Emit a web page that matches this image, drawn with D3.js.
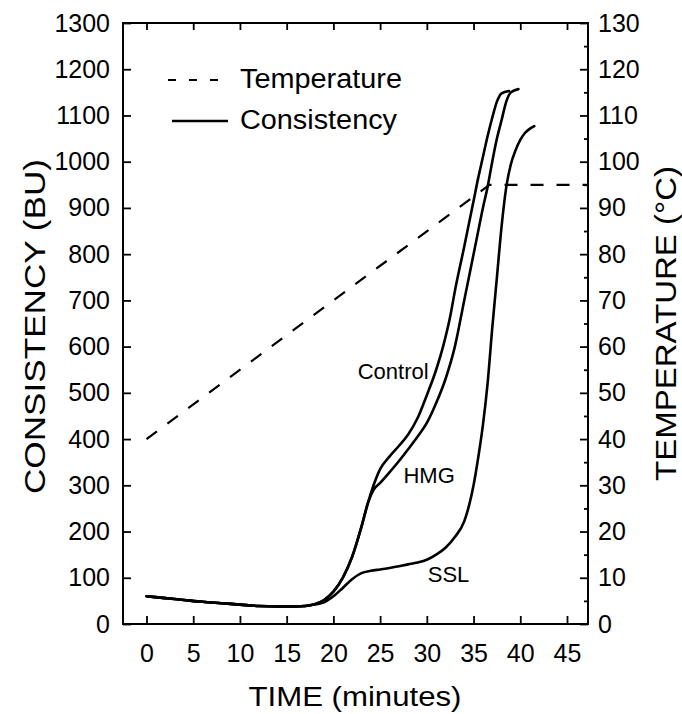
<!DOCTYPE html>
<html>
<head>
<meta charset="utf-8">
<script src="https://cdn.jsdelivr.net/npm/d3@7"></script>
<style>
  html, body { margin: 0; padding: 0; background: #fff; }
  svg text { font-family: "Liberation Sans", Arial, Helvetica, sans-serif; fill: #000; }
</style>
</head>
<body>
<svg id="chart" width="682" height="714"></svg>
<script>
// ---------- data ----------
const timeTicks = [0, 5, 10, 15, 20, 25, 30, 35, 40, 45];
const buTicks = [0, 100, 200, 300, 400, 500, 600, 700, 800, 900, 1000, 1100, 1200, 1300];
const tempTicks = [0, 10, 20, 30, 40, 50, 60, 70, 80, 90, 100, 110, 120, 130];
const tempMinorTicks = [5, 15, 25, 35, 45, 55, 65, 75, 85, 95, 105, 115, 125];

const tempTime = [0, 36.7, 47.2];
const tempC = [40, 95, 95];

const controlTime = [0, 2, 4, 6, 8, 10, 12, 14, 16, 17, 18, 19, 20, 21, 22, 23, 23.7, 24.3, 25, 26, 27, 28, 29, 30, 31, 31.8, 32.5, 33, 34, 35, 35.5, 36, 36.5, 37, 37.5, 38, 38.8];
const controlBU = [60, 56, 52, 48, 45, 42, 39, 38, 38, 39, 43, 52, 70, 100, 145, 210, 262, 300, 335, 362, 385, 410, 445, 495, 550, 605, 665, 720, 816, 915, 965, 1010, 1055, 1095, 1130, 1148, 1153];

const hmgTime = [0, 2, 4, 6, 8, 10, 12, 14, 16, 17, 18, 19, 20, 21, 22, 23, 23.7, 24.3, 25, 26, 27, 28, 29, 30, 31, 32, 33, 34, 35, 35.5, 36, 36.5, 37, 37.5, 38, 38.5, 39, 39.8];
const hmgBU = [60, 56, 52, 48, 45, 42, 39, 38, 38, 39, 43, 52, 70, 100, 145, 210, 262, 290, 305, 328, 352, 378, 405, 435, 478, 530, 600, 700, 800, 850, 900, 945, 1000, 1050, 1090, 1130, 1150, 1157];

const sslTime = [0, 2, 4, 6, 8, 10, 12, 14, 16, 17, 18, 19, 20, 21, 22, 23, 24, 25, 26, 27, 28, 29, 30, 31, 32, 33, 34, 34.5, 35, 35.5, 36, 36.5, 37, 37.5, 38, 38.5, 39, 39.5, 40, 40.5, 41, 41.5];
const sslBU = [60, 56, 52, 48, 45, 42, 39, 38, 38, 39, 42, 47, 60, 78, 97, 110, 115, 118, 121, 125, 129, 133, 139, 150, 165, 188, 222, 255, 300, 360, 430, 520, 640, 750, 860, 945, 995, 1025, 1047, 1062, 1071, 1077];

const seriesLabels = [
  { name: "Control", t: 22.6, v: 530 },
  { name: "HMG", t: 27.5, v: 305 },
  { name: "SSL", t: 30.1, v: 90 }
];

// ---------- layout ----------
const svg = d3.select("#chart");
const mLeft = 123, mRight = 588, mTop = 23, mBottom = 624;

const x = d3.scaleLinear().domain([0, 45]).range([146.5, 567]);
const y = d3.scaleLinear().domain([0, 1300]).range([mBottom, mTop]);
const yT = d3.scaleLinear().domain([0, 130]).range([mBottom, mTop]);

const tickFont = "25px";
const fmt = d3.format("d");

// frame
svg.append("rect")
  .attr("x", mLeft).attr("y", mTop)
  .attr("width", mRight - mLeft).attr("height", mBottom - mTop)
  .attr("fill", "none").attr("stroke", "#000").attr("stroke-width", 2);

function styleAxis(g) {
  g.select(".domain").remove();
  g.selectAll("line").attr("stroke", "#000").attr("stroke-width", 1.8);
  g.selectAll("text").style("font-size", tickFont).attr("fill", "#000");
}

// bottom axis
svg.append("g").attr("transform", `translate(0,${mBottom})`)
  .call(d3.axisBottom(x).tickValues(timeTicks).tickFormat(fmt).tickSizeInner(-8).tickSizeOuter(0).tickPadding(20))
  .call(styleAxis);
// top axis ticks
svg.append("g").attr("transform", `translate(0,${mTop})`)
  .call(d3.axisTop(x).tickValues(timeTicks).tickSizeInner(-7).tickSizeOuter(0).tickFormat(""))
  .call(styleAxis);
// left axis
svg.append("g").attr("transform", `translate(${mLeft},0)`)
  .call(d3.axisLeft(y).tickValues(buTicks).tickFormat(fmt).tickSizeInner(-8).tickSizeOuter(0).tickPadding(13))
  .call(styleAxis);
// right axis
svg.append("g").attr("transform", `translate(${mRight},0)`)
  .call(d3.axisRight(yT).tickValues(tempTicks).tickFormat(fmt).tickSizeInner(-8).tickSizeOuter(0).tickPadding(10))
  .call(styleAxis);
svg.append("g").attr("transform", `translate(${mRight},0)`)
  .call(d3.axisRight(yT).tickValues(tempMinorTicks).tickSizeInner(-4).tickSizeOuter(0).tickFormat(""))
  .call(styleAxis);

// axis titles
svg.append("text")
  .attr("transform", `translate(45,${(mTop + mBottom) / 2 + 3}) rotate(-90)`)
  .attr("text-anchor", "middle")
  .attr("textLength", 335).attr("lengthAdjust", "spacingAndGlyphs")
  .style("font-size", "30px")
  .text("CONSISTENCY (BU)");
svg.append("text")
  .attr("transform", `translate(676,${(mTop + mBottom) / 2}) rotate(-90)`)
  .attr("text-anchor", "middle")
  .attr("textLength", 315).attr("lengthAdjust", "spacingAndGlyphs")
  .style("font-size", "30px")
  .text("TEMPERATURE (°C)");
svg.append("text")
  .attr("x", 355).attr("y", 706)
  .attr("text-anchor", "middle")
  .attr("textLength", 213).attr("lengthAdjust", "spacingAndGlyphs")
  .style("font-size", "27px")
  .text("TIME (minutes)");

// lines
const lineBU = d3.line().x(d => x(d[0])).y(d => y(d[1])).curve(d3.curveMonotoneX);
const lineT = d3.line().x(d => x(d[0])).y(d => yT(d[1]));

svg.append("path")
  .attr("d", lineT(d3.zip(tempTime, tempC)))
  .attr("fill", "none").attr("stroke", "#000").attr("stroke-width", 2.2)
  .attr("stroke-dasharray", "13,13");

[[controlTime, controlBU], [hmgTime, hmgBU], [sslTime, sslBU]].forEach(([t, v]) => {
  svg.append("path")
    .attr("d", lineBU(d3.zip(t, v)))
    .attr("fill", "none").attr("stroke", "#000").attr("stroke-width", 2.6)
    .attr("stroke-linejoin", "round").attr("stroke-linecap", "round");
});

// series labels
svg.selectAll(".slabel").data(seriesLabels).enter().append("text")
  .attr("class", "slabel")
  .attr("x", d => x(d.t)).attr("y", d => y(d.v))
  .style("font-size", "22px")
  .text(d => d.name);

// legend
svg.append("line").attr("x1", 168).attr("x2", 219).attr("y1", 80).attr("y2", 80)
  .attr("stroke", "#000").attr("stroke-width", 2.2).attr("stroke-dasharray", "8,13");
svg.append("text").attr("x", 240).attr("y", 88)
  .attr("textLength", 162).attr("lengthAdjust", "spacingAndGlyphs")
  .style("font-size", "27px").text("Temperature");
svg.append("line").attr("x1", 172).attr("x2", 228).attr("y1", 121).attr("y2", 121)
  .attr("stroke", "#000").attr("stroke-width", 2.4);
svg.append("text").attr("x", 240).attr("y", 129)
  .attr("textLength", 157).attr("lengthAdjust", "spacingAndGlyphs")
  .style("font-size", "27px").text("Consistency");
</script>
</body>
</html>
